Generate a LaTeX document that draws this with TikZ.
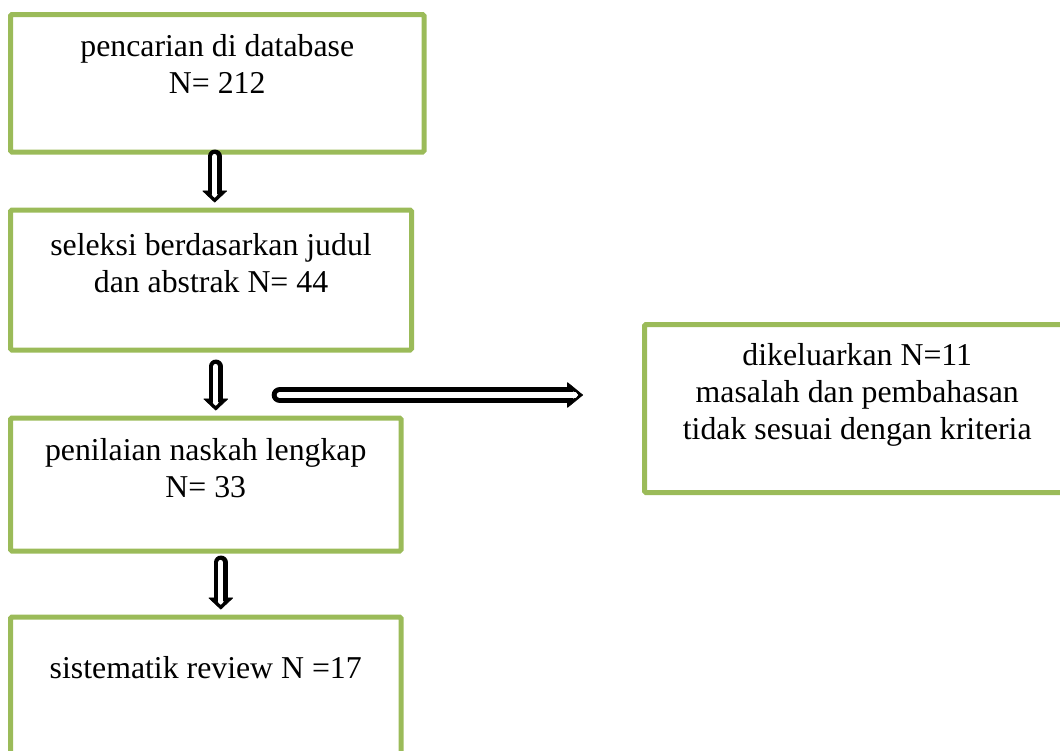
\documentclass[tikz,border=0pt]{standalone}
\usepackage{fontspec}
\setmainfont{Liberation Serif}
\definecolor{boxgreen}{RGB}{155,187,89}
\usetikzlibrary{arrows.meta,positioning,fit}

\begin{document}
\begin{tikzpicture}[x=0.75pt, y=-0.75pt,
  box/.style={draw=boxgreen, line width=3.75pt, rounded corners=1pt, inner sep=0pt},
  txt/.style={font=\fontsize{23.85}{27.6}\selectfont, align=center, inner sep=0pt},
  flowarrow/.style={draw=black, line width=10.5pt, line cap=round,
    -{Triangle[length=9pt,width=19pt,line width=0.5pt,round]},
    postaction={draw=white, line width=3.9pt, shorten >=3.6pt, -{Triangle[length=2.5pt,width=4.5pt,line width=0.1pt]}}}]
\useasboundingbox (0,0) rectangle (1060,750);
\node[box, fit={(10.5,14.5) (424,152)}] (search) {};
\node[box, fit={(10.5,210) (411.5,350)}] (screen) {};
\node[box, fit={(10.5,418) (401,551)}] (fulltext) {};
\node[box, fit={(10.5,617) (401,790)}] (review) {};
\node[box, fit={(644.5,324.5) (1070,492.5)}] (excluded) {};
\node[txt, below=16.9pt of search.north] (searchtxt) {pencarian di database\\N= 212};
\node[txt, below=19.5pt of screen.north] (screentxt) {seleksi berdasarkan judul\\dan abstrak N= 44};
\node[txt, below=17.25pt of fulltext.north] (fulltexttxt) {penilaian naskah lengkap\\N= 33};
\node[txt, below=31.5pt of review.north] (reviewtxt) {sistematik review N =17};
\node[txt, below=16.1pt of excluded.north] (excludedtxt) {dikeluarkan N=11\\masalah dan pembahasan\\tidak sesuai dengan kriteria};
\draw[flowarrow] ([xshift=-1.9pt,yshift=-1.5pt]search.south) -- ([xshift=-1.9pt,yshift=3.75pt]search.south |- screen.north);
\draw[flowarrow] ([xshift=3.6pt,yshift=-10.5pt]screen.south) -- ([xshift=3.6pt,yshift=3.75pt]screen.south |- fulltext.north);
\draw[flowarrow] ([xshift=11.3pt,yshift=-6.75pt]fulltext.south) -- ([xshift=11.3pt,yshift=3.75pt]fulltext.south |- review.north);
\coordinate (exstart) at (280,395);
\coordinate (exend) at (583,395);
\draw[flowarrow, line width=12.5pt, -{Triangle[length=12pt,width=19.5pt,line width=0.5pt,round]},
  postaction={draw=white, line width=5pt, shorten >=4.5pt, -{Triangle[length=3pt,width=5.5pt,line width=0.1pt]}}] (exstart) -- (exend);
\end{tikzpicture}
\end{document}
